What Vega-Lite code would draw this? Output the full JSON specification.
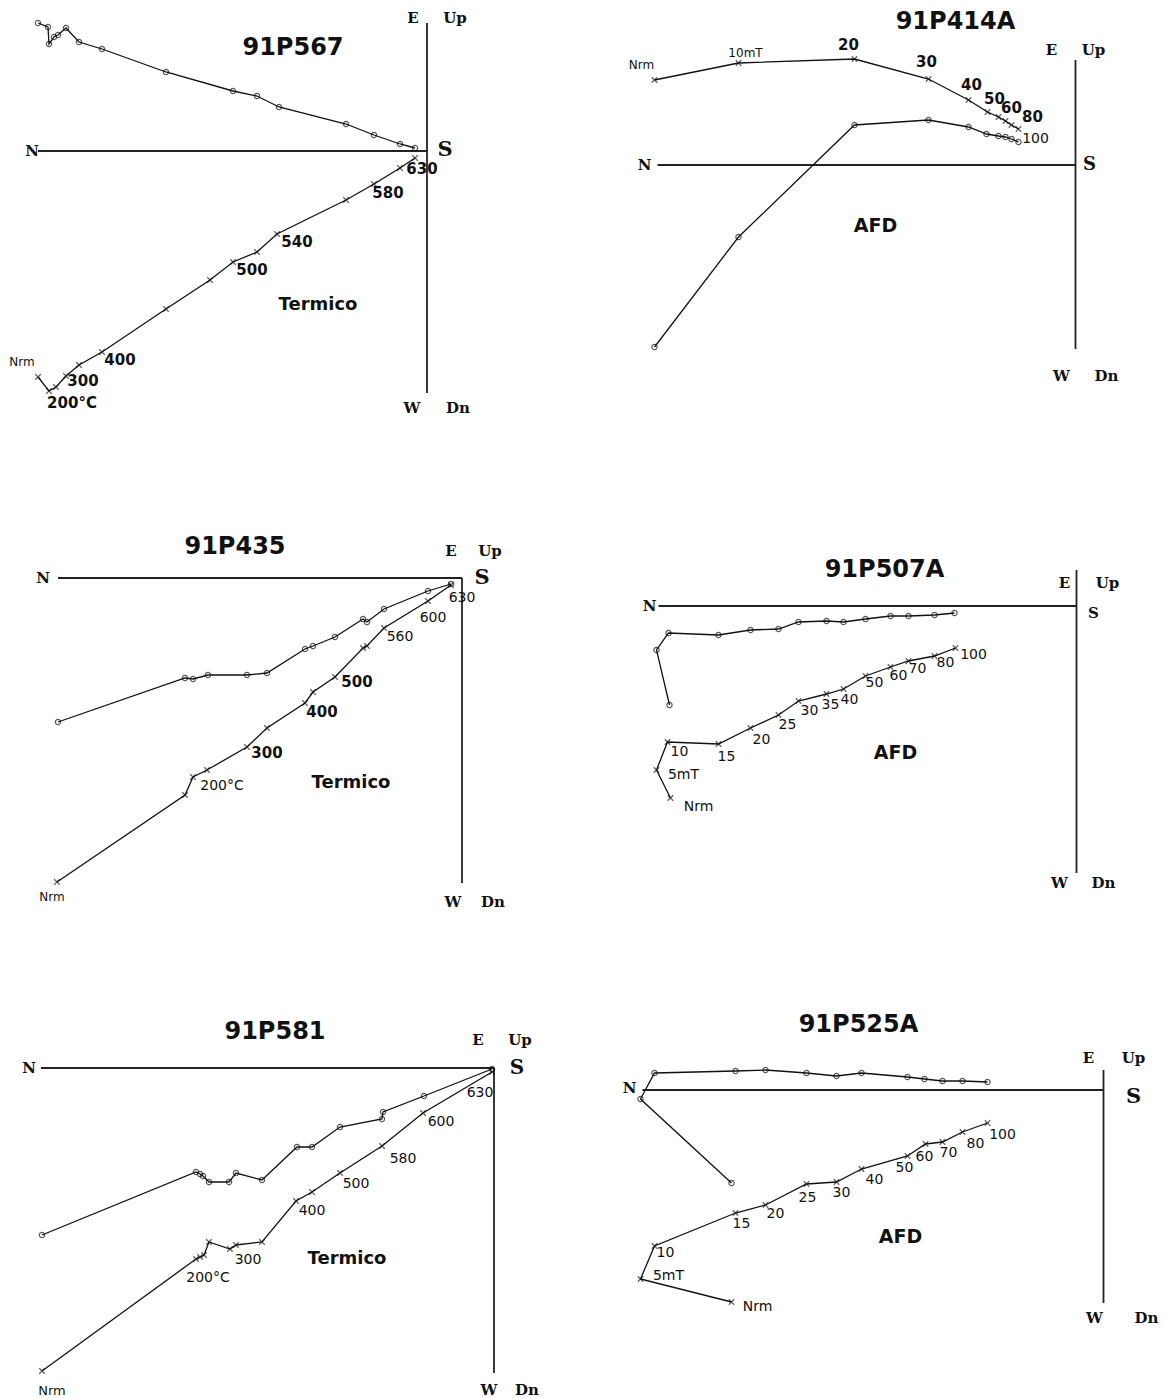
{
"$schema":"https://vega.github.io/schema/vega-lite/v6.json",
"padding":0,
"background":"white",
"config":{"view":{"stroke":null}},
"data":{"values":[
{"p":"91P567","k":"ax","x":-389,"y":0,"x2":0,"y2":0},
{"p":"91P567","k":"ax","x":0,"y":128,"x2":0,"y2":-242},
{"p":"91P567","k":"o","i":1,"x":-389,"y":128},
{"p":"91P567","k":"o","i":2,"x":-379,"y":124},
{"p":"91P567","k":"o","i":3,"x":-378,"y":107},
{"p":"91P567","k":"o","i":4,"x":-373,"y":114},
{"p":"91P567","k":"o","i":5,"x":-369,"y":116},
{"p":"91P567","k":"o","i":6,"x":-361,"y":123},
{"p":"91P567","k":"o","i":7,"x":-348,"y":109},
{"p":"91P567","k":"o","i":8,"x":-325,"y":102},
{"p":"91P567","k":"o","i":9,"x":-261,"y":79},
{"p":"91P567","k":"o","i":10,"x":-194,"y":60},
{"p":"91P567","k":"o","i":11,"x":-170,"y":55},
{"p":"91P567","k":"o","i":12,"x":-148,"y":44},
{"p":"91P567","k":"o","i":13,"x":-81,"y":27},
{"p":"91P567","k":"o","i":14,"x":-53,"y":16},
{"p":"91P567","k":"o","i":15,"x":-27,"y":7},
{"p":"91P567","k":"o","i":16,"x":-12,"y":3},
{"p":"91P567","k":"x","i":1,"x":-389,"y":-226},
{"p":"91P567","k":"x","i":2,"x":-378,"y":-240},
{"p":"91P567","k":"x","i":3,"x":-371,"y":-236},
{"p":"91P567","k":"x","i":4,"x":-361,"y":-225},
{"p":"91P567","k":"x","i":5,"x":-348,"y":-214},
{"p":"91P567","k":"x","i":6,"x":-325,"y":-201},
{"p":"91P567","k":"x","i":7,"x":-261,"y":-158},
{"p":"91P567","k":"x","i":8,"x":-217,"y":-129},
{"p":"91P567","k":"x","i":9,"x":-194,"y":-111},
{"p":"91P567","k":"x","i":10,"x":-170,"y":-101},
{"p":"91P567","k":"x","i":11,"x":-150,"y":-83},
{"p":"91P567","k":"x","i":12,"x":-81,"y":-49},
{"p":"91P567","k":"x","i":13,"x":-53,"y":-33},
{"p":"91P567","k":"x","i":14,"x":-27,"y":-17},
{"p":"91P567","k":"x","i":15,"x":-12,"y":-7},
{"p":"91P567","k":"title","x":-134,"y":103,"t":"91P567"},
{"p":"91P567","k":"dir","x":-395,"y":0,"t":"N"},
{"p":"91P567","k":"dirS","x":18,"y":1,"t":"S"},
{"p":"91P567","k":"dir","x":-14,"y":133,"t":"E"},
{"p":"91P567","k":"dir","x":28,"y":133,"t":"Up"},
{"p":"91P567","k":"dir","x":-15,"y":-257,"t":"W"},
{"p":"91P567","k":"dir","x":31,"y":-257,"t":"Dn"},
{"p":"91P567","k":"nrm","x":-405,"y":-211,"t":"Nrm"},
{"p":"91P567","k":"stepB","x":-355,"y":-252,"t":"200°C"},
{"p":"91P567","k":"stepB","x":-344,"y":-230,"t":"300"},
{"p":"91P567","k":"stepB","x":-307,"y":-209,"t":"400"},
{"p":"91P567","k":"stepB","x":-175,"y":-119,"t":"500"},
{"p":"91P567","k":"stepB","x":-130,"y":-91,"t":"540"},
{"p":"91P567","k":"stepB","x":-39,"y":-42,"t":"580"},
{"p":"91P567","k":"stepB","x":-5,"y":-18,"t":"630"},
{"p":"91P567","k":"method","x":-109,"y":-154,"t":"Termico"},

{"p":"91P414A","k":"ax","x":-418,"y":0,"x2":0,"y2":0},
{"p":"91P414A","k":"ax","x":0,"y":105,"x2":0,"y2":-184},
{"p":"91P414A","k":"x","i":1,"x":-421,"y":85},
{"p":"91P414A","k":"x","i":2,"x":-337,"y":102},
{"p":"91P414A","k":"x","i":3,"x":-221,"y":106},
{"p":"91P414A","k":"x","i":4,"x":-147,"y":86},
{"p":"91P414A","k":"x","i":5,"x":-107,"y":65},
{"p":"91P414A","k":"x","i":6,"x":-88,"y":53},
{"p":"91P414A","k":"x","i":7,"x":-77,"y":48},
{"p":"91P414A","k":"x","i":8,"x":-70,"y":44},
{"p":"91P414A","k":"x","i":9,"x":-64,"y":40},
{"p":"91P414A","k":"x","i":10,"x":-57,"y":36},
{"p":"91P414A","k":"o","i":1,"x":-421,"y":-182},
{"p":"91P414A","k":"o","i":2,"x":-337,"y":-72},
{"p":"91P414A","k":"o","i":3,"x":-221,"y":40},
{"p":"91P414A","k":"o","i":4,"x":-147,"y":45},
{"p":"91P414A","k":"o","i":5,"x":-107,"y":38},
{"p":"91P414A","k":"o","i":6,"x":-89,"y":31},
{"p":"91P414A","k":"o","i":7,"x":-77,"y":29},
{"p":"91P414A","k":"o","i":8,"x":-70,"y":28},
{"p":"91P414A","k":"o","i":9,"x":-64,"y":26},
{"p":"91P414A","k":"o","i":10,"x":-57,"y":23},
{"p":"91P414A","k":"title","x":-120,"y":143,"t":"91P414A"},
{"p":"91P414A","k":"dir","x":-431,"y":0,"t":"N"},
{"p":"91P414A","k":"dirS","x":14,"y":0,"t":"S"},
{"p":"91P414A","k":"dir","x":-24,"y":115,"t":"E"},
{"p":"91P414A","k":"dir","x":18,"y":115,"t":"Up"},
{"p":"91P414A","k":"dir","x":-14,"y":-211,"t":"W"},
{"p":"91P414A","k":"dir","x":31,"y":-211,"t":"Dn"},
{"p":"91P414A","k":"nrm","x":-434,"y":100,"t":"Nrm"},
{"p":"91P414A","k":"nrm","x":-330,"y":112,"t":"10mT"},
{"p":"91P414A","k":"stepB","x":-227,"y":120,"t":"20"},
{"p":"91P414A","k":"stepB","x":-149,"y":103,"t":"30"},
{"p":"91P414A","k":"stepB","x":-104,"y":80,"t":"40"},
{"p":"91P414A","k":"stepB","x":-81,"y":66,"t":"50"},
{"p":"91P414A","k":"stepB","x":-64,"y":57,"t":"60"},
{"p":"91P414A","k":"stepB","x":-43,"y":48,"t":"80"},
{"p":"91P414A","k":"step","x":-40,"y":26,"t":"100"},
{"p":"91P414A","k":"method","x":-200,"y":-61,"t":"AFD"},

{"p":"91P435","k":"ax","x":-404,"y":0,"x2":0,"y2":0},
{"p":"91P435","k":"ax","x":0,"y":0,"x2":0,"y2":-305},
{"p":"91P435","k":"o","i":1,"x":-404,"y":-144},
{"p":"91P435","k":"o","i":2,"x":-277,"y":-100},
{"p":"91P435","k":"o","i":3,"x":-269,"y":-101},
{"p":"91P435","k":"o","i":4,"x":-254,"y":-97},
{"p":"91P435","k":"o","i":5,"x":-215,"y":-97},
{"p":"91P435","k":"o","i":6,"x":-195,"y":-95},
{"p":"91P435","k":"o","i":7,"x":-157,"y":-71},
{"p":"91P435","k":"o","i":8,"x":-149,"y":-68},
{"p":"91P435","k":"o","i":9,"x":-127,"y":-59},
{"p":"91P435","k":"o","i":10,"x":-99,"y":-41},
{"p":"91P435","k":"o","i":11,"x":-95,"y":-44},
{"p":"91P435","k":"o","i":12,"x":-78,"y":-31},
{"p":"91P435","k":"o","i":13,"x":-34,"y":-13},
{"p":"91P435","k":"o","i":14,"x":-11,"y":-6},
{"p":"91P435","k":"x","i":1,"x":-405,"y":-304},
{"p":"91P435","k":"x","i":2,"x":-277,"y":-217},
{"p":"91P435","k":"x","i":3,"x":-269,"y":-199},
{"p":"91P435","k":"x","i":4,"x":-255,"y":-192},
{"p":"91P435","k":"x","i":5,"x":-215,"y":-169},
{"p":"91P435","k":"x","i":6,"x":-195,"y":-150},
{"p":"91P435","k":"x","i":7,"x":-157,"y":-125},
{"p":"91P435","k":"x","i":8,"x":-149,"y":-114},
{"p":"91P435","k":"x","i":9,"x":-127,"y":-99},
{"p":"91P435","k":"x","i":10,"x":-99,"y":-70},
{"p":"91P435","k":"x","i":11,"x":-95,"y":-68},
{"p":"91P435","k":"x","i":12,"x":-78,"y":-50},
{"p":"91P435","k":"x","i":13,"x":-34,"y":-23},
{"p":"91P435","k":"x","i":14,"x":-11,"y":-7},
{"p":"91P435","k":"title","x":-227,"y":31,"t":"91P435"},
{"p":"91P435","k":"dir","x":-419,"y":0,"t":"N"},
{"p":"91P435","k":"dirS","x":20,"y":0,"t":"S"},
{"p":"91P435","k":"dir","x":-11,"y":27,"t":"E"},
{"p":"91P435","k":"dir","x":28,"y":27,"t":"Up"},
{"p":"91P435","k":"dir","x":-9,"y":-324,"t":"W"},
{"p":"91P435","k":"dir","x":31,"y":-324,"t":"Dn"},
{"p":"91P435","k":"nrm","x":-410,"y":-319,"t":"Nrm"},
{"p":"91P435","k":"step","x":-240,"y":-208,"t":"200°C"},
{"p":"91P435","k":"stepB","x":-195,"y":-175,"t":"300"},
{"p":"91P435","k":"stepB","x":-140,"y":-134,"t":"400"},
{"p":"91P435","k":"stepB","x":-105,"y":-104,"t":"500"},
{"p":"91P435","k":"step","x":-62,"y":-59,"t":"560"},
{"p":"91P435","k":"step","x":-29,"y":-40,"t":"600"},
{"p":"91P435","k":"step","x":0,"y":-20,"t":"630"},
{"p":"91P435","k":"method","x":-111,"y":-205,"t":"Termico"},

{"p":"91P507A","k":"ax","x":-418,"y":0,"x2":0,"y2":0},
{"p":"91P507A","k":"ax","x":0,"y":36,"x2":0,"y2":-267},
{"p":"91P507A","k":"o","i":1,"x":-407,"y":-99},
{"p":"91P507A","k":"o","i":2,"x":-420,"y":-44},
{"p":"91P507A","k":"o","i":3,"x":-408,"y":-27},
{"p":"91P507A","k":"o","i":4,"x":-358,"y":-29},
{"p":"91P507A","k":"o","i":5,"x":-326,"y":-24},
{"p":"91P507A","k":"o","i":6,"x":-298,"y":-23},
{"p":"91P507A","k":"o","i":7,"x":-278,"y":-16},
{"p":"91P507A","k":"o","i":8,"x":-250,"y":-15},
{"p":"91P507A","k":"o","i":9,"x":-233,"y":-16},
{"p":"91P507A","k":"o","i":10,"x":-211,"y":-13},
{"p":"91P507A","k":"o","i":11,"x":-186,"y":-10},
{"p":"91P507A","k":"o","i":12,"x":-168,"y":-10},
{"p":"91P507A","k":"o","i":13,"x":-142,"y":-9},
{"p":"91P507A","k":"o","i":14,"x":-122,"y":-7},
{"p":"91P507A","k":"x","i":1,"x":-406,"y":-192},
{"p":"91P507A","k":"x","i":2,"x":-420,"y":-164},
{"p":"91P507A","k":"x","i":3,"x":-409,"y":-136},
{"p":"91P507A","k":"x","i":4,"x":-358,"y":-138},
{"p":"91P507A","k":"x","i":5,"x":-326,"y":-122},
{"p":"91P507A","k":"x","i":6,"x":-298,"y":-109},
{"p":"91P507A","k":"x","i":7,"x":-278,"y":-95},
{"p":"91P507A","k":"x","i":8,"x":-250,"y":-88},
{"p":"91P507A","k":"x","i":9,"x":-233,"y":-83},
{"p":"91P507A","k":"x","i":10,"x":-211,"y":-70},
{"p":"91P507A","k":"x","i":11,"x":-186,"y":-61},
{"p":"91P507A","k":"x","i":12,"x":-168,"y":-55},
{"p":"91P507A","k":"x","i":13,"x":-142,"y":-50},
{"p":"91P507A","k":"x","i":14,"x":-121,"y":-42},
{"p":"91P507A","k":"title","x":-192,"y":36,"t":"91P507A"},
{"p":"91P507A","k":"dir","x":-427,"y":0,"t":"N"},
{"p":"91P507A","k":"dir","x":17,"y":-7,"t":"S"},
{"p":"91P507A","k":"dir","x":-12,"y":23,"t":"E"},
{"p":"91P507A","k":"dir","x":31,"y":23,"t":"Up"},
{"p":"91P507A","k":"dir","x":-17,"y":-277,"t":"W"},
{"p":"91P507A","k":"dir","x":27,"y":-277,"t":"Dn"},
{"p":"91P507A","k":"nrm","x":-378,"y":-201,"t":"Nrm"},
{"p":"91P507A","k":"step","x":-393,"y":-169,"t":"5mT"},
{"p":"91P507A","k":"step","x":-397,"y":-146,"t":"10"},
{"p":"91P507A","k":"step","x":-350,"y":-151,"t":"15"},
{"p":"91P507A","k":"step","x":-315,"y":-134,"t":"20"},
{"p":"91P507A","k":"step","x":-289,"y":-119,"t":"25"},
{"p":"91P507A","k":"step","x":-267,"y":-105,"t":"30"},
{"p":"91P507A","k":"step","x":-246,"y":-99,"t":"35"},
{"p":"91P507A","k":"step","x":-227,"y":-94,"t":"40"},
{"p":"91P507A","k":"step","x":-202,"y":-77,"t":"50"},
{"p":"91P507A","k":"step","x":-178,"y":-70,"t":"60"},
{"p":"91P507A","k":"step","x":-159,"y":-63,"t":"70"},
{"p":"91P507A","k":"step","x":-131,"y":-57,"t":"80"},
{"p":"91P507A","k":"step","x":-103,"y":-49,"t":"100"},
{"p":"91P507A","k":"method","x":-181,"y":-147,"t":"AFD"},

{"p":"91P581","k":"ax","x":-453,"y":0,"x2":0,"y2":0},
{"p":"91P581","k":"ax","x":0,"y":0,"x2":0,"y2":-305},
{"p":"91P581","k":"o","i":1,"x":-452,"y":-167},
{"p":"91P581","k":"o","i":2,"x":-298,"y":-104},
{"p":"91P581","k":"o","i":3,"x":-294,"y":-106},
{"p":"91P581","k":"o","i":4,"x":-291,"y":-108},
{"p":"91P581","k":"o","i":5,"x":-285,"y":-114},
{"p":"91P581","k":"o","i":6,"x":-265,"y":-114},
{"p":"91P581","k":"o","i":7,"x":-258,"y":-105},
{"p":"91P581","k":"o","i":8,"x":-232,"y":-112},
{"p":"91P581","k":"o","i":9,"x":-197,"y":-79},
{"p":"91P581","k":"o","i":10,"x":-182,"y":-79},
{"p":"91P581","k":"o","i":11,"x":-154,"y":-59},
{"p":"91P581","k":"o","i":12,"x":-112,"y":-51},
{"p":"91P581","k":"o","i":13,"x":-111,"y":-44},
{"p":"91P581","k":"o","i":14,"x":-70,"y":-28},
{"p":"91P581","k":"o","i":15,"x":-2,"y":-1},
{"p":"91P581","k":"x","i":1,"x":-452,"y":-303},
{"p":"91P581","k":"x","i":2,"x":-298,"y":-191},
{"p":"91P581","k":"x","i":3,"x":-294,"y":-189},
{"p":"91P581","k":"x","i":4,"x":-290,"y":-187},
{"p":"91P581","k":"x","i":5,"x":-285,"y":-174},
{"p":"91P581","k":"x","i":6,"x":-264,"y":-181},
{"p":"91P581","k":"x","i":7,"x":-258,"y":-177},
{"p":"91P581","k":"x","i":8,"x":-232,"y":-174},
{"p":"91P581","k":"x","i":9,"x":-198,"y":-133},
{"p":"91P581","k":"x","i":10,"x":-182,"y":-124},
{"p":"91P581","k":"x","i":11,"x":-154,"y":-105},
{"p":"91P581","k":"x","i":12,"x":-112,"y":-78},
{"p":"91P581","k":"x","i":13,"x":-71,"y":-45},
{"p":"91P581","k":"x","i":14,"x":-2,"y":-4},
{"p":"91P581","k":"title","x":-219,"y":36,"t":"91P581"},
{"p":"91P581","k":"dir","x":-465,"y":0,"t":"N"},
{"p":"91P581","k":"dirS","x":23,"y":0,"t":"S"},
{"p":"91P581","k":"dir","x":-16,"y":28,"t":"E"},
{"p":"91P581","k":"dir","x":26,"y":28,"t":"Up"},
{"p":"91P581","k":"dir","x":-5,"y":-322,"t":"W"},
{"p":"91P581","k":"dir","x":33,"y":-322,"t":"Dn"},
{"p":"91P581","k":"nrm","x":-442,"y":-323,"t":"Nrm"},
{"p":"91P581","k":"step","x":-286,"y":-210,"t":"200°C"},
{"p":"91P581","k":"step","x":-246,"y":-192,"t":"300"},
{"p":"91P581","k":"step","x":-182,"y":-143,"t":"400"},
{"p":"91P581","k":"step","x":-138,"y":-116,"t":"500"},
{"p":"91P581","k":"step","x":-91,"y":-91,"t":"580"},
{"p":"91P581","k":"step","x":-53,"y":-54,"t":"600"},
{"p":"91P581","k":"step","x":-14,"y":-25,"t":"630"},
{"p":"91P581","k":"method","x":-147,"y":-191,"t":"Termico"},

{"p":"91P525A","k":"ax","x":-461,"y":0,"x2":0,"y2":0},
{"p":"91P525A","k":"ax","x":0,"y":20,"x2":0,"y2":-213},
{"p":"91P525A","k":"o","i":1,"x":-372,"y":-93},
{"p":"91P525A","k":"o","i":2,"x":-463,"y":-9},
{"p":"91P525A","k":"o","i":3,"x":-449,"y":17},
{"p":"91P525A","k":"o","i":4,"x":-368,"y":19},
{"p":"91P525A","k":"o","i":5,"x":-338,"y":20},
{"p":"91P525A","k":"o","i":6,"x":-297,"y":17},
{"p":"91P525A","k":"o","i":7,"x":-267,"y":14},
{"p":"91P525A","k":"o","i":8,"x":-242,"y":17},
{"p":"91P525A","k":"o","i":9,"x":-196,"y":13},
{"p":"91P525A","k":"o","i":10,"x":-179,"y":11},
{"p":"91P525A","k":"o","i":11,"x":-161,"y":9},
{"p":"91P525A","k":"o","i":12,"x":-141,"y":9},
{"p":"91P525A","k":"o","i":13,"x":-116,"y":8},
{"p":"91P525A","k":"x","i":1,"x":-372,"y":-212},
{"p":"91P525A","k":"x","i":2,"x":-463,"y":-189},
{"p":"91P525A","k":"x","i":3,"x":-449,"y":-156},
{"p":"91P525A","k":"x","i":4,"x":-368,"y":-123},
{"p":"91P525A","k":"x","i":5,"x":-338,"y":-115},
{"p":"91P525A","k":"x","i":6,"x":-297,"y":-94},
{"p":"91P525A","k":"x","i":7,"x":-267,"y":-92},
{"p":"91P525A","k":"x","i":8,"x":-242,"y":-79},
{"p":"91P525A","k":"x","i":9,"x":-196,"y":-66},
{"p":"91P525A","k":"x","i":10,"x":-178,"y":-54},
{"p":"91P525A","k":"x","i":11,"x":-161,"y":-52},
{"p":"91P525A","k":"x","i":12,"x":-141,"y":-42},
{"p":"91P525A","k":"x","i":13,"x":-116,"y":-33},
{"p":"91P525A","k":"title","x":-245,"y":65,"t":"91P525A"},
{"p":"91P525A","k":"dir","x":-474,"y":2,"t":"N"},
{"p":"91P525A","k":"dirS","x":30,"y":-7,"t":"S"},
{"p":"91P525A","k":"dir","x":-15,"y":32,"t":"E"},
{"p":"91P525A","k":"dir","x":30,"y":32,"t":"Up"},
{"p":"91P525A","k":"dir","x":-9,"y":-228,"t":"W"},
{"p":"91P525A","k":"dir","x":43,"y":-228,"t":"Dn"},
{"p":"91P525A","k":"nrm","x":-346,"y":-217,"t":"Nrm"},
{"p":"91P525A","k":"step","x":-435,"y":-186,"t":"5mT"},
{"p":"91P525A","k":"step","x":-438,"y":-163,"t":"10"},
{"p":"91P525A","k":"step","x":-362,"y":-134,"t":"15"},
{"p":"91P525A","k":"step","x":-328,"y":-124,"t":"20"},
{"p":"91P525A","k":"step","x":-296,"y":-108,"t":"25"},
{"p":"91P525A","k":"step","x":-262,"y":-103,"t":"30"},
{"p":"91P525A","k":"step","x":-229,"y":-90,"t":"40"},
{"p":"91P525A","k":"step","x":-199,"y":-78,"t":"50"},
{"p":"91P525A","k":"step","x":-179,"y":-67,"t":"60"},
{"p":"91P525A","k":"step","x":-155,"y":-63,"t":"70"},
{"p":"91P525A","k":"step","x":-128,"y":-54,"t":"80"},
{"p":"91P525A","k":"step","x":-101,"y":-45,"t":"100"},
{"p":"91P525A","k":"method","x":-203,"y":-147,"t":"AFD"}
]},
"columns":2,
"spacing":0,
"bounds":"flush",
"concat":[
{"width":582.5,"height":466,"transform":[{"filter":"datum.p==='91P567'"}],
"encoding":{"x":{"field":"x","type":"quantitative","axis":null,"scale":{"domain":[-427,155.5],"nice":false,"zero":false}},"y":{"field":"y","type":"quantitative","axis":null,"scale":{"domain":[-315,151],"nice":false,"zero":false}}},
"layer":[
{"transform":[{"filter":"datum.k==='ax'"}],"mark":{"type":"rule","stroke":"#222","strokeWidth":1.8},"encoding":{"x2":{"field":"x2"},"y2":{"field":"y2"}}},
{"transform":[{"filter":"datum.k==='o'||datum.k==='x'"}],"mark":{"type":"line","stroke":"#111","strokeWidth":1.3},"encoding":{"detail":{"field":"k"},"order":{"field":"i","type":"quantitative"}}},
{"transform":[{"filter":"datum.k==='o'"}],"mark":{"type":"point","shape":"circle","filled":false,"size":28,"stroke":"#111","strokeWidth":1.2}},
{"transform":[{"filter":"datum.k==='x'"}],"mark":{"type":"point","shape":"M-1,-1L1,1M-1,1L1,-1","filled":false,"size":30,"stroke":"#111","strokeWidth":1.1}},
{"transform":[{"filter":"datum.k==='title'"}],"mark":{"type":"text","font":"DejaVu Sans","fontWeight":"bold","fontSize":24,"align":"center","baseline":"middle","fill":"#111"},"encoding":{"text":{"field":"t"}}},
{"transform":[{"filter":"datum.k==='dir'"}],"mark":{"type":"text","font":"DejaVu Serif","fontWeight":"bold","fontSize":15,"align":"center","baseline":"middle","fill":"#111"},"encoding":{"text":{"field":"t"}}},
{"transform":[{"filter":"datum.k==='dirS'"}],"mark":{"type":"text","font":"DejaVu Serif","fontWeight":"bold","fontSize":21,"align":"center","baseline":"middle","fill":"#111"},"encoding":{"text":{"field":"t"}}},
{"transform":[{"filter":"datum.k==='nrm'"}],"mark":{"type":"text","font":"DejaVu Sans","fontSize":12,"align":"center","baseline":"middle","fill":"#111"},"encoding":{"text":{"field":"t"}}},
{"transform":[{"filter":"datum.k==='step'"}],"mark":{"type":"text","font":"DejaVu Sans","fontSize":14,"align":"center","baseline":"middle","fill":"#111"},"encoding":{"text":{"field":"t"}}},
{"transform":[{"filter":"datum.k==='stepB'"}],"mark":{"type":"text","font":"DejaVu Sans","fontWeight":"bold","fontSize":15,"align":"center","baseline":"middle","fill":"#111"},"encoding":{"text":{"field":"t"}}},
{"transform":[{"filter":"datum.k==='method'"}],"mark":{"type":"text","font":"DejaVu Sans","fontWeight":"bold","fontSize":18,"align":"center","baseline":"middle","fill":"#111"},"encoding":{"text":{"field":"t"}}}
]},
{"width":582.5,"height":466,"transform":[{"filter":"datum.p==='91P414A'"}],
"encoding":{"x":{"field":"x","type":"quantitative","axis":null,"scale":{"domain":[-492.5,90],"nice":false,"zero":false}},"y":{"field":"y","type":"quantitative","axis":null,"scale":{"domain":[-301,165],"nice":false,"zero":false}}},
"layer":[
{"transform":[{"filter":"datum.k==='ax'"}],"mark":{"type":"rule","stroke":"#222","strokeWidth":1.8},"encoding":{"x2":{"field":"x2"},"y2":{"field":"y2"}}},
{"transform":[{"filter":"datum.k==='o'||datum.k==='x'"}],"mark":{"type":"line","stroke":"#111","strokeWidth":1.3},"encoding":{"detail":{"field":"k"},"order":{"field":"i","type":"quantitative"}}},
{"transform":[{"filter":"datum.k==='o'"}],"mark":{"type":"point","shape":"circle","filled":false,"size":28,"stroke":"#111","strokeWidth":1.2}},
{"transform":[{"filter":"datum.k==='x'"}],"mark":{"type":"point","shape":"M-1,-1L1,1M-1,1L1,-1","filled":false,"size":30,"stroke":"#111","strokeWidth":1.1}},
{"transform":[{"filter":"datum.k==='title'"}],"mark":{"type":"text","font":"DejaVu Sans","fontWeight":"bold","fontSize":24,"align":"center","baseline":"middle","fill":"#111"},"encoding":{"text":{"field":"t"}}},
{"transform":[{"filter":"datum.k==='dir'"}],"mark":{"type":"text","font":"DejaVu Serif","fontWeight":"bold","fontSize":15,"align":"center","baseline":"middle","fill":"#111"},"encoding":{"text":{"field":"t"}}},
{"transform":[{"filter":"datum.k==='dirS'"}],"mark":{"type":"text","font":"DejaVu Serif","fontWeight":"bold","fontSize":18,"align":"center","baseline":"middle","fill":"#111"},"encoding":{"text":{"field":"t"}}},
{"transform":[{"filter":"datum.k==='nrm'"}],"mark":{"type":"text","font":"DejaVu Sans","fontSize":12,"align":"center","baseline":"middle","fill":"#111"},"encoding":{"text":{"field":"t"}}},
{"transform":[{"filter":"datum.k==='step'"}],"mark":{"type":"text","font":"DejaVu Sans","fontSize":14,"align":"center","baseline":"middle","fill":"#111"},"encoding":{"text":{"field":"t"}}},
{"transform":[{"filter":"datum.k==='stepB'"}],"mark":{"type":"text","font":"DejaVu Sans","fontWeight":"bold","fontSize":15,"align":"center","baseline":"middle","fill":"#111"},"encoding":{"text":{"field":"t"}}},
{"transform":[{"filter":"datum.k==='method'"}],"mark":{"type":"text","font":"DejaVu Sans","fontWeight":"bold","fontSize":19,"align":"center","baseline":"middle","fill":"#111"},"encoding":{"text":{"field":"t"}}}
]},
{"width":582.5,"height":466,"transform":[{"filter":"datum.p==='91P435'"}],
"encoding":{"x":{"field":"x","type":"quantitative","axis":null,"scale":{"domain":[-462,120.5],"nice":false,"zero":false}},"y":{"field":"y","type":"quantitative","axis":null,"scale":{"domain":[-354,112],"nice":false,"zero":false}}},
"layer":[
{"transform":[{"filter":"datum.k==='ax'"}],"mark":{"type":"rule","stroke":"#222","strokeWidth":1.8},"encoding":{"x2":{"field":"x2"},"y2":{"field":"y2"}}},
{"transform":[{"filter":"datum.k==='o'||datum.k==='x'"}],"mark":{"type":"line","stroke":"#111","strokeWidth":1.3},"encoding":{"detail":{"field":"k"},"order":{"field":"i","type":"quantitative"}}},
{"transform":[{"filter":"datum.k==='o'"}],"mark":{"type":"point","shape":"circle","filled":false,"size":28,"stroke":"#111","strokeWidth":1.2}},
{"transform":[{"filter":"datum.k==='x'"}],"mark":{"type":"point","shape":"M-1,-1L1,1M-1,1L1,-1","filled":false,"size":30,"stroke":"#111","strokeWidth":1.1}},
{"transform":[{"filter":"datum.k==='title'"}],"mark":{"type":"text","font":"DejaVu Sans","fontWeight":"bold","fontSize":24,"align":"center","baseline":"middle","fill":"#111"},"encoding":{"text":{"field":"t"}}},
{"transform":[{"filter":"datum.k==='dir'"}],"mark":{"type":"text","font":"DejaVu Serif","fontWeight":"bold","fontSize":15,"align":"center","baseline":"middle","fill":"#111"},"encoding":{"text":{"field":"t"}}},
{"transform":[{"filter":"datum.k==='dirS'"}],"mark":{"type":"text","font":"DejaVu Serif","fontWeight":"bold","fontSize":21,"align":"center","baseline":"middle","fill":"#111"},"encoding":{"text":{"field":"t"}}},
{"transform":[{"filter":"datum.k==='nrm'"}],"mark":{"type":"text","font":"DejaVu Sans","fontSize":12,"align":"center","baseline":"middle","fill":"#111"},"encoding":{"text":{"field":"t"}}},
{"transform":[{"filter":"datum.k==='step'"}],"mark":{"type":"text","font":"DejaVu Sans","fontSize":14,"align":"center","baseline":"middle","fill":"#111"},"encoding":{"text":{"field":"t"}}},
{"transform":[{"filter":"datum.k==='stepB'"}],"mark":{"type":"text","font":"DejaVu Sans","fontWeight":"bold","fontSize":15,"align":"center","baseline":"middle","fill":"#111"},"encoding":{"text":{"field":"t"}}},
{"transform":[{"filter":"datum.k==='method'"}],"mark":{"type":"text","font":"DejaVu Sans","fontWeight":"bold","fontSize":18,"align":"center","baseline":"middle","fill":"#111"},"encoding":{"text":{"field":"t"}}}
]},
{"width":582.5,"height":466,"transform":[{"filter":"datum.p==='91P507A'"}],
"encoding":{"x":{"field":"x","type":"quantitative","axis":null,"scale":{"domain":[-493.5,89],"nice":false,"zero":false}},"y":{"field":"y","type":"quantitative","axis":null,"scale":{"domain":[-326,140],"nice":false,"zero":false}}},
"layer":[
{"transform":[{"filter":"datum.k==='ax'"}],"mark":{"type":"rule","stroke":"#222","strokeWidth":1.8},"encoding":{"x2":{"field":"x2"},"y2":{"field":"y2"}}},
{"transform":[{"filter":"datum.k==='o'||datum.k==='x'"}],"mark":{"type":"line","stroke":"#111","strokeWidth":1.3},"encoding":{"detail":{"field":"k"},"order":{"field":"i","type":"quantitative"}}},
{"transform":[{"filter":"datum.k==='o'"}],"mark":{"type":"point","shape":"circle","filled":false,"size":28,"stroke":"#111","strokeWidth":1.2}},
{"transform":[{"filter":"datum.k==='x'"}],"mark":{"type":"point","shape":"M-1,-1L1,1M-1,1L1,-1","filled":false,"size":30,"stroke":"#111","strokeWidth":1.1}},
{"transform":[{"filter":"datum.k==='title'"}],"mark":{"type":"text","font":"DejaVu Sans","fontWeight":"bold","fontSize":24,"align":"center","baseline":"middle","fill":"#111"},"encoding":{"text":{"field":"t"}}},
{"transform":[{"filter":"datum.k==='dir'"}],"mark":{"type":"text","font":"DejaVu Serif","fontWeight":"bold","fontSize":15,"align":"center","baseline":"middle","fill":"#111"},"encoding":{"text":{"field":"t"}}},
{"transform":[{"filter":"datum.k==='nrm'"}],"mark":{"type":"text","font":"DejaVu Sans","fontSize":14,"align":"center","baseline":"middle","fill":"#111"},"encoding":{"text":{"field":"t"}}},
{"transform":[{"filter":"datum.k==='step'"}],"mark":{"type":"text","font":"DejaVu Sans","fontSize":14,"align":"center","baseline":"middle","fill":"#111"},"encoding":{"text":{"field":"t"}}},
{"transform":[{"filter":"datum.k==='method'"}],"mark":{"type":"text","font":"DejaVu Sans","fontWeight":"bold","fontSize":19,"align":"center","baseline":"middle","fill":"#111"},"encoding":{"text":{"field":"t"}}}
]},
{"width":582.5,"height":466,"transform":[{"filter":"datum.p==='91P581'"}],
"encoding":{"x":{"field":"x","type":"quantitative","axis":null,"scale":{"domain":[-494,88.5],"nice":false,"zero":false}},"y":{"field":"y","type":"quantitative","axis":null,"scale":{"domain":[-330,136],"nice":false,"zero":false}}},
"layer":[
{"transform":[{"filter":"datum.k==='ax'"}],"mark":{"type":"rule","stroke":"#222","strokeWidth":1.8},"encoding":{"x2":{"field":"x2"},"y2":{"field":"y2"}}},
{"transform":[{"filter":"datum.k==='o'||datum.k==='x'"}],"mark":{"type":"line","stroke":"#111","strokeWidth":1.3},"encoding":{"detail":{"field":"k"},"order":{"field":"i","type":"quantitative"}}},
{"transform":[{"filter":"datum.k==='o'"}],"mark":{"type":"point","shape":"circle","filled":false,"size":28,"stroke":"#111","strokeWidth":1.2}},
{"transform":[{"filter":"datum.k==='x'"}],"mark":{"type":"point","shape":"M-1,-1L1,1M-1,1L1,-1","filled":false,"size":30,"stroke":"#111","strokeWidth":1.1}},
{"transform":[{"filter":"datum.k==='title'"}],"mark":{"type":"text","font":"DejaVu Sans","fontWeight":"bold","fontSize":24,"align":"center","baseline":"middle","fill":"#111"},"encoding":{"text":{"field":"t"}}},
{"transform":[{"filter":"datum.k==='dir'"}],"mark":{"type":"text","font":"DejaVu Serif","fontWeight":"bold","fontSize":15,"align":"center","baseline":"middle","fill":"#111"},"encoding":{"text":{"field":"t"}}},
{"transform":[{"filter":"datum.k==='dirS'"}],"mark":{"type":"text","font":"DejaVu Serif","fontWeight":"bold","fontSize":20,"align":"center","baseline":"middle","fill":"#111"},"encoding":{"text":{"field":"t"}}},
{"transform":[{"filter":"datum.k==='nrm'"}],"mark":{"type":"text","font":"DejaVu Sans","fontSize":13,"align":"center","baseline":"middle","fill":"#111"},"encoding":{"text":{"field":"t"}}},
{"transform":[{"filter":"datum.k==='step'"}],"mark":{"type":"text","font":"DejaVu Sans","fontSize":14,"align":"center","baseline":"middle","fill":"#111"},"encoding":{"text":{"field":"t"}}},
{"transform":[{"filter":"datum.k==='method'"}],"mark":{"type":"text","font":"DejaVu Sans","fontWeight":"bold","fontSize":18,"align":"center","baseline":"middle","fill":"#111"},"encoding":{"text":{"field":"t"}}}
]},
{"width":582.5,"height":466,"transform":[{"filter":"datum.p==='91P525A'"}],
"encoding":{"x":{"field":"x","type":"quantitative","axis":null,"scale":{"domain":[-520.5,62],"nice":false,"zero":false}},"y":{"field":"y","type":"quantitative","axis":null,"scale":{"domain":[-308,158],"nice":false,"zero":false}}},
"layer":[
{"transform":[{"filter":"datum.k==='ax'"}],"mark":{"type":"rule","stroke":"#222","strokeWidth":1.8},"encoding":{"x2":{"field":"x2"},"y2":{"field":"y2"}}},
{"transform":[{"filter":"datum.k==='o'||datum.k==='x'"}],"mark":{"type":"line","stroke":"#111","strokeWidth":1.3},"encoding":{"detail":{"field":"k"},"order":{"field":"i","type":"quantitative"}}},
{"transform":[{"filter":"datum.k==='o'"}],"mark":{"type":"point","shape":"circle","filled":false,"size":28,"stroke":"#111","strokeWidth":1.2}},
{"transform":[{"filter":"datum.k==='x'"}],"mark":{"type":"point","shape":"M-1,-1L1,1M-1,1L1,-1","filled":false,"size":30,"stroke":"#111","strokeWidth":1.1}},
{"transform":[{"filter":"datum.k==='title'"}],"mark":{"type":"text","font":"DejaVu Sans","fontWeight":"bold","fontSize":24,"align":"center","baseline":"middle","fill":"#111"},"encoding":{"text":{"field":"t"}}},
{"transform":[{"filter":"datum.k==='dir'"}],"mark":{"type":"text","font":"DejaVu Serif","fontWeight":"bold","fontSize":15,"align":"center","baseline":"middle","fill":"#111"},"encoding":{"text":{"field":"t"}}},
{"transform":[{"filter":"datum.k==='dirS'"}],"mark":{"type":"text","font":"DejaVu Serif","fontWeight":"bold","fontSize":21,"align":"center","baseline":"middle","fill":"#111"},"encoding":{"text":{"field":"t"}}},
{"transform":[{"filter":"datum.k==='nrm'"}],"mark":{"type":"text","font":"DejaVu Sans","fontSize":14,"align":"center","baseline":"middle","fill":"#111"},"encoding":{"text":{"field":"t"}}},
{"transform":[{"filter":"datum.k==='step'"}],"mark":{"type":"text","font":"DejaVu Sans","fontSize":14,"align":"center","baseline":"middle","fill":"#111"},"encoding":{"text":{"field":"t"}}},
{"transform":[{"filter":"datum.k==='method'"}],"mark":{"type":"text","font":"DejaVu Sans","fontWeight":"bold","fontSize":19,"align":"center","baseline":"middle","fill":"#111"},"encoding":{"text":{"field":"t"}}}
]}
]
}
